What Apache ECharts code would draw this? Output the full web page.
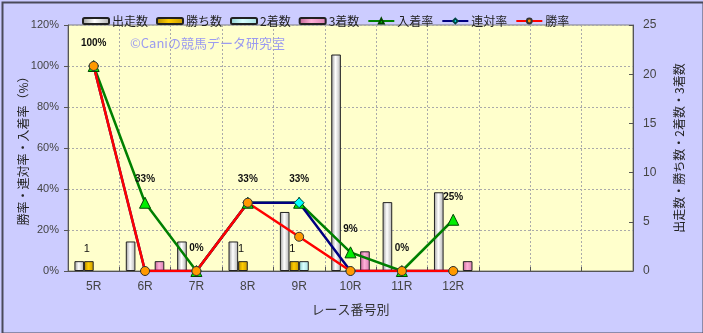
<!DOCTYPE html>
<html>
<head>
<meta charset="utf-8">
<script src="https://cdn.jsdelivr.net/npm/echarts@6/dist/echarts.min.js"></script>
<style>
html,body{margin:0;padding:0;}
#c{width:703px;height:333px;background:#ccccff;}
</style>
</head>
<body>
<div id="c"></div>
<script>
const categories = ['5R','6R','7R','8R','9R','10R','11R','12R','','',''];
const starts  = [1, 3, 3, 3, 6, 22, 7, 8];
const wins    = [1, 0, 0, 1, 1, 0, 0, 0];
const seconds = [0, 0, 0, 0, 1, 0, 0, 0];
const thirds  = [0, 1, 0, 0, 0, 2, 0, 1];
const placeRate  = [100, 33.3, 0, 33.3, 33.3, 9.1, 0, 25];
const rentaiRate = [100, 0, 0, 33.3, 33.3, 0, 0, 0];
const winRate    = [100, 0, 0, 33.3, 16.7, 0, 0, 0];
const leftTicks = [0, 20, 40, 60, 80, 100, 120];
const rightTicks = [0, 5, 10, 15, 20, 25];

const num = "'Liberation Sans Narrow','Liberation Sans',Arial,sans-serif";
const jp = "'Noto Sans CJK JP',sans-serif";

function grad(c1, c2, c3) {
  return new echarts.graphic.LinearGradient(0, 0, 1, 0, [
    {offset: 0, color: c1}, {offset: 0.45, color: c2}, {offset: 1, color: c3}
  ]);
}
const nz = a => a.map(v => v === 0 ? '-' : v);

const chart = echarts.init(document.getElementById('c'), null, {renderer: 'canvas'});
const barBase = {
  type: 'bar', yAxisIndex: 1, barGap: '0%', barCategoryGap: '25%'
};
chart.setOption({
  animation: false,
  backgroundColor: '#ccccff',
  textStyle: {fontFamily: jp},
  legend: {
    top: 10, left: 77, itemWidth: 26, itemHeight: 6, itemGap: 8,
    textStyle: {fontSize: 12, color: '#222', fontFamily: jp, padding: [0,0,0,-2]},
    data: ['出走数', '勝ち数', '2着数', '3着数', '入着率', '連対率', '勝率']
  },
  grid: {left: 68, right: 70, top: 25, bottom: 62, show: true, backgroundColor: '#ffffcc', borderColor: '#808080', borderWidth: 1},
  graphic: [{
    type: 'text', left: 130, top: 37,
    style: {text: '©Caniの競馬データ研究室', fill: '#9b9bf0', font: "13px 'Noto Sans CJK JP'"}
  }, {
    type: 'rect', left: 0, top: 0, z: 100, silent: true,
    shape: {x: 1, y: 1, width: 701, height: 331},
    style: {fill: 'none', stroke: '#4a4a5a', lineWidth: 2}
  }],
  xAxis: {
    type: 'category', data: categories, boundaryGap: true,
    name: 'レース番号別', nameLocation: 'middle', nameGap: 32, nameMoveOverlap: false,
    nameTextStyle: {fontSize: 13, color: '#333', fontFamily: jp},
    axisLine: {lineStyle: {color: '#555'}},
    axisTick: {show: true, inside: true, length: 4, lineStyle: {color: '#555'}},
    axisLabel: {fontSize: 12, color: '#444', fontFamily: num, margin: 10, interval: 0},
    splitLine: {show: true, interval: 0, lineStyle: {color: '#aaa', type: [2, 2], width: 1}}
  },
  yAxis: [{
    type: 'value', min: 0, max: 120, interval: 20,
    name: '勝率・連対率・入着率（%）', nameLocation: 'middle', nameRotate: 90, nameGap: 39, nameMoveOverlap: false,
    nameTextStyle: {fontSize: 12, color: '#222', fontFamily: jp},
    axisLine: {show: true, lineStyle: {color: '#555'}},
    axisTick: {show: true, length: 4, lineStyle: {color: '#555'}},
    axisLabel: {fontSize: 11, color: '#444', fontFamily: num, margin: 9, formatter: v => leftTicks.includes(v) ? v + '%' : ''},
    splitLine: {show: true, lineStyle: {color: '#aaa', type: [2, 2], width: 1}}
  }, {
    type: 'value', min: 0, max: 25, interval: 5,
    name: '出走数・勝ち数・2着数・3着数', nameLocation: 'middle', nameRotate: 90, nameGap: 40, nameMoveOverlap: false,
    nameTextStyle: {fontSize: 12, color: '#222', fontFamily: jp},
    axisLine: {show: true, lineStyle: {color: '#555'}},
    axisTick: {show: true, inside: true, length: 4, lineStyle: {color: '#555'}},
    axisLabel: {fontSize: 12, color: '#444', fontFamily: num, margin: 10, formatter: v => rightTicks.includes(v) ? String(v) : ''},
    splitLine: {show: false}
  }],
  series: [
    Object.assign({}, barBase, {name: '出走数', data: nz(starts),
      itemStyle: {borderColor: '#222', borderWidth: 1, color: grad('#9a9a9a', '#ffffff', '#b0b0b0')}}),
    Object.assign({}, barBase, {name: '勝ち数', data: nz(wins),
      itemStyle: {borderColor: '#222', borderWidth: 1, color: grad('#b08800', '#ffcc00', '#c89a00')},
      label: {show: true, position: 'top', distance: 7, fontSize: 11, color: '#111', fontFamily: num, offset: [-2, 0]}}),
    Object.assign({}, barBase, {name: '2着数', data: nz(seconds),
      itemStyle: {borderColor: '#222', borderWidth: 1, color: grad('#8fcfcf', '#d8ffff', '#a8e0e0')}}),
    Object.assign({}, barBase, {name: '3着数', data: nz(thirds),
      itemStyle: {borderColor: '#222', borderWidth: 1, color: grad('#c06090', '#ffb0d8', '#d87fb0')}}),
    {
      name: '入着率', type: 'line', yAxisIndex: 0, data: placeRate,
      symbol: 'triangle', symbolSize: 11,
      lineStyle: {color: '#008000', width: 2.5},
      itemStyle: {color: '#00ee00', borderColor: '#004400', borderWidth: 1},
      label: {show: true, position: 'top', distance: 12, fontSize: 10, fontWeight: 'bold', color: '#111', fontFamily: num,
        formatter: p => Math.round(p.value) + '%'}
    },
    {
      name: '連対率', type: 'line', yAxisIndex: 0, data: rentaiRate,
      symbol: 'diamond', symbolSize: 10,
      lineStyle: {color: '#000080', width: 2.5},
      itemStyle: {color: '#00ffff', borderColor: '#004444', borderWidth: 1}
    },
    {
      name: '勝率', type: 'line', yAxisIndex: 0, data: winRate,
      symbol: 'circle', symbolSize: 9,
      lineStyle: {color: '#ff0000', width: 2.5},
      itemStyle: {color: '#ff9900', borderColor: '#333', borderWidth: 1}
    }
  ]
});
</script>
</body>
</html>
